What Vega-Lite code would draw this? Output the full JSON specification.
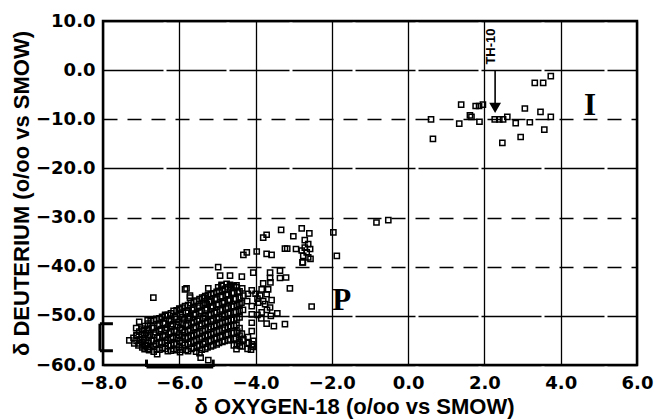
{
  "$schema": "https://vega.github.io/schema/vega-lite/v6.json",
  "autosize": {"type": "none"},
  "padding": {"left": 103, "top": 21, "right": 19, "bottom": 54},
  "width": 534,
  "height": 344,
  "background": "white",
  "config": {
    "view": {"stroke": "black", "strokeWidth": 2.5},
    "axis": {
      "labelFont": "DejaVu Sans", "labelFontWeight": "bold", "labelFontSize": 18, "labelColor": "black",
      "titleFont": "Liberation Sans", "titleFontWeight": "bold", "titleFontSize": 22, "titleColor": "black",
      "domain": false, "ticks": false, "tickSize": 0, "grid": true, "gridColor": "black", "gridOpacity": 1, "gridWidth": 1.3,
      "labelOverlap": false, "labelBound": false, "labelFlush": false
    }
  },
  "datasets": {
    "pts": [
      {"x":0.6,"y":-10},{"x":0.65,"y":-14},{"x":1.39,"y":-7.0},{"x":1.34,"y":-10.9},{"x":1.77,"y":-7.3},{"x":1.86,"y":-7.3},{"x":1.96,"y":-7.0},{"x":1.62,"y":-9.2},{"x":1.66,"y":-9.5},{"x":1.87,"y":-10.5},{"x":2.27,"y":-10.0},{"x":2.39,"y":-10.0},{"x":2.49,"y":-10.0},{"x":2.6,"y":-9.5},{"x":2.47,"y":-14.8},{"x":2.82,"y":-10.8},{"x":2.95,"y":-13.6},{"x":3.06,"y":-7.8},{"x":3.19,"y":-10.6},{"x":3.47,"y":-8.5},{"x":3.57,"y":-12.1},{"x":3.74,"y":-9.5},{"x":3.32,"y":-2.6},{"x":3.54,"y":-2.6},{"x":3.74,"y":-1.2},
      {"x":-0.83,"y":-31},{"x":-0.52,"y":-30.5},{"x":-1.96,"y":-33},{"x":-1.87,"y":-37.8},{"x":-2.53,"y":-48.1},{"x":-2.76,"y":-39.1},
      {"x":-2.71,"y":-34.6},{"x":-2.62,"y":-35.4},{"x":-2.71,"y":-36.1},{"x":-2.57,"y":-36.4},{"x":-2.79,"y":-36.7},{"x":-2.66,"y":-37.1},{"x":-2.75,"y":-37.8},{"x":-2.62,"y":-38.1},{"x":-2.77,"y":-39.1},{"x":-2.56,"y":-38.4},{"x":-2.94,"y":-36.4},{"x":-3.23,"y":-36.3},{"x":-3.17,"y":-36.3},
      {"x":-2.79,"y":-32.2},{"x":-2.59,"y":-33.2},{"x":-3.01,"y":-33.8},{"x":-3.33,"y":-32.5},{"x":-3.8,"y":-34.1},{"x":-3.71,"y":-33.5},
      {"x":-4.32,"y":-37.6},{"x":-4.23,"y":-37.1},{"x":-3.97,"y":-36.9},{"x":-3.71,"y":-37.4},{"x":-3.58,"y":-37.6},
      {"x":-4.98,"y":-40.1},{"x":-4.93,"y":-41.8},{"x":-4.67,"y":-41.8},{"x":-4.36,"y":-42.0},{"x":-4.06,"y":-41.2},{"x":-3.62,"y":-41.2},{"x":-3.36,"y":-40.8},{"x":-3.2,"y":-42.2},{"x":-3.36,"y":-42.3},{"x":-3.62,"y":-42.3},{"x":-3.1,"y":-44.4},{"x":-3.8,"y":-43.4},{"x":-3.61,"y":-43.2},{"x":-3.84,"y":-44.6},{"x":-3.67,"y":-44.6},{"x":-3.88,"y":-45.9},{"x":-3.71,"y":-45.6},{"x":-3.58,"y":-46.8},{"x":-3.93,"y":-47.3},{"x":-3.75,"y":-47.6},{"x":-3.62,"y":-48.3},{"x":-3.84,"y":-49.3},{"x":-3.43,"y":-49.5},{"x":-3.71,"y":-51.6},{"x":-3.52,"y":-52.1},{"x":-3.23,"y":-51.7},{"x":-4.1,"y":-48},{"x":-4.1,"y":-49.7},{"x":-4.1,"y":-51.4},{"x":-4.1,"y":-53.1},{"x":-4.32,"y":-54.8},{"x":-4.41,"y":-56.1},{"x":-4.5,"y":-56.8},{"x":-4.06,"y":-55.1},{"x":-4.06,"y":-56.3},
      {"x":-4.89,"y":-43.9},{"x":-4.67,"y":-43.7},{"x":-4.5,"y":-44.2},{"x":-4.1,"y":-44.8},{"x":-5.85,"y":-44.6},
      {"x":-3.95,"y":-46.5},{"x":-3.8,"y":-47},{"x":-3.7,"y":-48.8},{"x":-3.95,"y":-49.8},{"x":-3.85,"y":-50.5},{"x":-3.6,"y":-50},{"x":-4.0,"y":-45.5},
      {"x":-6.68,"y":-46.3},{"x":-7.05,"y":-51.2},{"x":-6.83,"y":-50.9},{"x":-7.13,"y":-52.5},{"x":-6.93,"y":-52.9},{"x":-7.31,"y":-55},{"x":-7.12,"y":-53.9},{"x":-7.05,"y":-55.6},{"x":-6.9,"y":-56.1},{"x":-6.79,"y":-57},{"x":-6.58,"y":-57.8},{"x":-5.44,"y":-58.5},{"x":-5.24,"y":-59},{"x":-5.72,"y":-46.3},{"x":-5.35,"y":-46.3},{"x":-5.28,"y":-47.6},{"x":-5.98,"y":-48.6},{"x":-6.37,"y":-49.8},{"x":-5.81,"y":-44.4},{"x":-5.72,"y":-45.9},{"x":-5.24,"y":-44.4},{"x":-4.98,"y":-44.2},{"x":-4.89,"y":-43.7},{"x":-4.76,"y":-43.5},
      {"x":-7.2,"y":-54.5},{"x":-7.18,"y":-55.6},
      {"x":-7.05,"y":-53.2},{"x":-7.02,"y":-54.8},{"x":-7.07,"y":-56.0},
      {"x":-6.9,"y":-52.1},{"x":-6.87,"y":-53.5},{"x":-6.92,"y":-54.6},{"x":-6.88,"y":-55.9},{"x":-6.91,"y":-56.8},
      {"x":-6.75,"y":-51.0},{"x":-6.72,"y":-52.4},{"x":-6.77,"y":-53.8},{"x":-6.73,"y":-55.1},{"x":-6.76,"y":-56.3},
      {"x":-6.6,"y":-50.6},{"x":-6.57,"y":-52.0},{"x":-6.62,"y":-53.3},{"x":-6.58,"y":-54.5},{"x":-6.61,"y":-55.7},{"x":-6.59,"y":-56.9},
      {"x":-6.45,"y":-50.2},{"x":-6.42,"y":-51.5},{"x":-6.47,"y":-52.7},{"x":-6.43,"y":-54.0},{"x":-6.46,"y":-55.3},{"x":-6.44,"y":-56.5},
      {"x":-6.3,"y":-49.8},{"x":-6.27,"y":-51.1},{"x":-6.32,"y":-52.4},{"x":-6.28,"y":-53.6},{"x":-6.31,"y":-54.9},{"x":-6.29,"y":-56.1},{"x":-6.3,"y":-57.2},
      {"x":-6.15,"y":-49.0},{"x":-6.12,"y":-50.3},{"x":-6.17,"y":-51.7},{"x":-6.13,"y":-53.0},{"x":-6.16,"y":-54.3},{"x":-6.14,"y":-55.6},{"x":-6.15,"y":-56.8},
      {"x":-6.0,"y":-48.5},{"x":-5.97,"y":-49.9},{"x":-6.02,"y":-51.2},{"x":-5.98,"y":-52.5},{"x":-6.01,"y":-53.8},{"x":-5.99,"y":-55.1},{"x":-6.0,"y":-56.4},{"x":-5.98,"y":-57.4},
      {"x":-5.85,"y":-48.0},{"x":-5.82,"y":-49.4},{"x":-5.87,"y":-50.7},{"x":-5.83,"y":-52.0},{"x":-5.86,"y":-53.3},{"x":-5.84,"y":-54.6},{"x":-5.85,"y":-55.9},{"x":-5.83,"y":-57.0},
      {"x":-5.7,"y":-47.4},{"x":-5.67,"y":-48.8},{"x":-5.72,"y":-50.1},{"x":-5.68,"y":-51.5},{"x":-5.71,"y":-52.8},{"x":-5.69,"y":-54.1},{"x":-5.7,"y":-55.4},{"x":-5.68,"y":-56.7},
      {"x":-5.55,"y":-46.9},{"x":-5.52,"y":-48.3},{"x":-5.57,"y":-49.6},{"x":-5.53,"y":-51.0},{"x":-5.56,"y":-52.3},{"x":-5.54,"y":-53.6},{"x":-5.55,"y":-54.9},{"x":-5.53,"y":-56.2},{"x":-5.56,"y":-57.3},
      {"x":-5.4,"y":-46.3},{"x":-5.37,"y":-47.7},{"x":-5.42,"y":-49.0},{"x":-5.38,"y":-50.4},{"x":-5.41,"y":-51.7},{"x":-5.39,"y":-53.1},{"x":-5.4,"y":-54.4},{"x":-5.38,"y":-55.7},{"x":-5.41,"y":-56.9},
      {"x":-5.25,"y":-45.8},{"x":-5.22,"y":-47.2},{"x":-5.27,"y":-48.5},{"x":-5.23,"y":-49.9},{"x":-5.26,"y":-51.2},{"x":-5.24,"y":-52.6},{"x":-5.25,"y":-53.9},{"x":-5.23,"y":-55.2},{"x":-5.26,"y":-56.4},
      {"x":-5.1,"y":-45.4},{"x":-5.07,"y":-46.7},{"x":-5.12,"y":-48.0},{"x":-5.08,"y":-49.4},{"x":-5.11,"y":-50.7},{"x":-5.09,"y":-52.1},{"x":-5.1,"y":-53.4},{"x":-5.08,"y":-54.7},{"x":-5.11,"y":-56.0},
      {"x":-4.95,"y":-44.9},{"x":-4.92,"y":-46.2},{"x":-4.97,"y":-47.6},{"x":-4.93,"y":-48.9},{"x":-4.96,"y":-50.3},{"x":-4.94,"y":-51.6},{"x":-4.95,"y":-53.0},{"x":-4.93,"y":-54.3},{"x":-4.96,"y":-55.5},
      {"x":-4.8,"y":-44.5},{"x":-4.77,"y":-45.8},{"x":-4.82,"y":-47.1},{"x":-4.78,"y":-48.5},{"x":-4.81,"y":-49.8},{"x":-4.79,"y":-51.2},{"x":-4.8,"y":-52.5},{"x":-4.78,"y":-53.8},{"x":-4.81,"y":-55.1},
      {"x":-4.65,"y":-44.0},{"x":-4.62,"y":-45.4},{"x":-4.67,"y":-46.7},{"x":-4.63,"y":-48.1},{"x":-4.66,"y":-49.4},{"x":-4.64,"y":-50.8},{"x":-4.65,"y":-52.1},{"x":-4.63,"y":-53.5},{"x":-4.66,"y":-54.8},
      {"x":-4.5,"y":-43.8},{"x":-4.47,"y":-45.1},{"x":-4.52,"y":-46.5},{"x":-4.48,"y":-47.8},{"x":-4.51,"y":-49.2},{"x":-4.49,"y":-50.5},{"x":-4.5,"y":-51.9},{"x":-4.48,"y":-53.2},{"x":-4.51,"y":-54.6},{"x":-4.49,"y":-55.8},
      {"x":-4.35,"y":-44.4},{"x":-4.32,"y":-45.9},{"x":-4.37,"y":-47.3},{"x":-4.33,"y":-48.8},{"x":-4.36,"y":-53.6},{"x":-4.34,"y":-55.0},{"x":-4.35,"y":-56.2},
      {"x":-4.2,"y":-45.5},{"x":-4.22,"y":-47.0},{"x":-4.2,"y":-54.3},{"x":-4.18,"y":-55.5},{"x":-4.21,"y":-56.7},
      {"x":-4.1,"y":-55.8},{"x":-4.12,"y":-56.9},{"x":-4.08,"y":-56.2},
      {"x":-7.12,"y":-54.0},{"x":-7.12,"y":-55.1},
      {"x":-6.97,"y":-52.6},{"x":-6.97,"y":-53.9},{"x":-6.97,"y":-55.3},{"x":-6.97,"y":-56.4},
      {"x":-6.82,"y":-51.6},{"x":-6.82,"y":-52.9},{"x":-6.82,"y":-54.2},{"x":-6.82,"y":-55.5},{"x":-6.82,"y":-56.7},
      {"x":-6.67,"y":-50.9},{"x":-6.67,"y":-52.5},{"x":-6.67,"y":-53.8},{"x":-6.67,"y":-55.0},{"x":-6.67,"y":-56.2},{"x":-6.67,"y":-57.3},
      {"x":-6.52,"y":-50.5},{"x":-6.52,"y":-51.8},{"x":-6.52,"y":-53.0},{"x":-6.52,"y":-54.3},{"x":-6.52,"y":-55.6},{"x":-6.52,"y":-56.9},
      {"x":-6.37,"y":-50.0},{"x":-6.37,"y":-51.6},{"x":-6.37,"y":-52.9},{"x":-6.37,"y":-54.2},{"x":-6.37,"y":-55.5},{"x":-6.37,"y":-56.7},
      {"x":-6.22,"y":-49.5},{"x":-6.22,"y":-50.8},{"x":-6.22,"y":-52.1},{"x":-6.22,"y":-53.3},{"x":-6.22,"y":-54.6},{"x":-6.22,"y":-55.9},{"x":-6.22,"y":-57.1},
      {"x":-6.07,"y":-48.9},{"x":-6.07,"y":-50.6},{"x":-6.07,"y":-51.9},{"x":-6.07,"y":-53.2},{"x":-6.07,"y":-54.5},{"x":-6.07,"y":-55.8},{"x":-6.07,"y":-57.0},
      {"x":-5.92,"y":-48.3},{"x":-5.92,"y":-50.3},{"x":-5.92,"y":-51.6},{"x":-5.92,"y":-52.9},{"x":-5.92,"y":-54.2},{"x":-5.92,"y":-55.5},{"x":-5.92,"y":-56.9},
      {"x":-5.77,"y":-47.8},{"x":-5.77,"y":-49.1},{"x":-5.77,"y":-50.4},{"x":-5.77,"y":-51.8},{"x":-5.77,"y":-53.1},{"x":-5.77,"y":-54.4},{"x":-5.77,"y":-55.7},{"x":-5.77,"y":-57.2},
      {"x":-5.62,"y":-47.1},{"x":-5.62,"y":-48.5},{"x":-5.62,"y":-49.8},{"x":-5.62,"y":-51.2},{"x":-5.62,"y":-52.5},{"x":-5.62,"y":-53.9},{"x":-5.62,"y":-55.2},{"x":-5.62,"y":-56.5},
      {"x":-5.47,"y":-46.6},{"x":-5.47,"y":-48.0},{"x":-5.47,"y":-49.3},{"x":-5.47,"y":-50.7},{"x":-5.47,"y":-52.0},{"x":-5.47,"y":-53.4},{"x":-5.47,"y":-54.7},{"x":-5.47,"y":-56.0},{"x":-5.47,"y":-57.6},
      {"x":-5.32,"y":-46.0},{"x":-5.32,"y":-47.4},{"x":-5.32,"y":-48.8},{"x":-5.32,"y":-50.1},{"x":-5.32,"y":-51.5},{"x":-5.32,"y":-52.8},{"x":-5.32,"y":-54.1},{"x":-5.32,"y":-55.4},{"x":-5.32,"y":-56.7},
      {"x":-5.17,"y":-45.6},{"x":-5.17,"y":-47.0},{"x":-5.17,"y":-48.3},{"x":-5.17,"y":-49.7},{"x":-5.17,"y":-51.0},{"x":-5.17,"y":-52.3},{"x":-5.17,"y":-53.7},{"x":-5.17,"y":-55.0},{"x":-5.17,"y":-56.2},
      {"x":-5.02,"y":-45.1},{"x":-5.02,"y":-46.5},{"x":-5.02,"y":-47.8},{"x":-5.02,"y":-49.2},{"x":-5.02,"y":-50.5},{"x":-5.02,"y":-51.9},{"x":-5.02,"y":-53.2},{"x":-5.02,"y":-54.5},{"x":-5.02,"y":-55.8},
      {"x":-4.87,"y":-44.7},{"x":-4.87,"y":-46.0},{"x":-4.87,"y":-47.4},{"x":-4.87,"y":-48.7},{"x":-4.87,"y":-50.1},{"x":-4.87,"y":-51.4},{"x":-4.87,"y":-52.8},{"x":-4.87,"y":-54.1},{"x":-4.87,"y":-55.3},
      {"x":-4.72,"y":-44.2},{"x":-4.72,"y":-45.6},{"x":-4.72,"y":-46.9},{"x":-4.72,"y":-48.3},{"x":-4.72,"y":-49.6},{"x":-4.72,"y":-51.0},{"x":-4.72,"y":-52.3},{"x":-4.72,"y":-53.7},{"x":-4.72,"y":-55.0},
      {"x":-4.57,"y":-44.0},{"x":-4.57,"y":-45.3},{"x":-4.57,"y":-46.6},{"x":-4.57,"y":-48.0},{"x":-4.57,"y":-49.3},{"x":-4.57,"y":-50.7},{"x":-4.57,"y":-52.0},{"x":-4.57,"y":-53.4},{"x":-4.57,"y":-54.7},{"x":-4.57,"y":-56.0},
      {"x":-4.42,"y":-45.0},{"x":-4.42,"y":-46.3},{"x":-4.42,"y":-47.6},{"x":-4.42,"y":-49.0},{"x":-4.42,"y":-50.3},{"x":-4.42,"y":-52.5},{"x":-4.42,"y":-54.0},{"x":-4.42,"y":-55.4}
    ],
    "brk": [
      {"x":-8.08,"y":-51.6,"x2":-8.08,"y2":-57.1},
      {"x":-8.08,"y":-51.6,"x2":-7.74,"y2":-51.6},
      {"x":-8.08,"y":-57.1,"x2":-7.74,"y2":-57.1},
      {"x":-6.86,"y":-60.4,"x2":-5.11,"y2":-60.4},
      {"x":-6.86,"y":-60.4,"x2":-6.86,"y2":-58.9},
      {"x":-5.11,"y":-60.4,"x2":-5.11,"y2":-58.9}
    ],
    "arrow": [{"x":2.28,"y":0,"x2":2.28,"y2":-6.8}],
    "head": [{"x":2.28,"y":-7.6}],
    "big": [{"x":4.77,"y":-7.3,"label":"I"},{"x":-1.74,"y":-46.9,"label":"P"}],
    "th": [{"x":2.16,"y":4.8,"label":"TH-10"}]
  },
  "layer": [
    {
      "data": {"name": "pts"},
      "mark": {"type": "point", "shape": "square", "filled": false, "stroke": "black", "strokeWidth": 1.5, "size": 27, "opacity": 1},
      "encoding": {
        "x": {"field": "x", "type": "quantitative", "scale": {"domain": [-8, 6], "nice": false, "zero": false},
          "axis": {"values": [-8,-6,-4,-2,0,2,4,6], "format": ".1f", "labelPadding": 9, "title": "δ OXYGEN-18 (o/oo vs SMOW)", "titleX": 251, "titleY": 31, "titleBaseline": "top"}},
        "y": {"field": "y", "type": "quantitative", "scale": {"domain": [-60, 10], "nice": false, "zero": false},
          "axis": {"values": [-60,-50,-40,-30,-20,-10,0,10], "format": ".1f", "labelPadding": 8, "title": "δ DEUTERIUM (o/oo vs SMOW)", "titleX": -82, "titleBaseline": "middle",
            "gridDash": {"condition": {"test": "datum.value == -10 || datum.value == -30 || datum.value == -40", "value": [14, 10]}, "value": [60, 3]}}}
      }
    },
    {
      "data": {"name": "brk"},
      "mark": {"type": "rule", "stroke": "black", "strokeWidth": 3, "clip": false},
      "encoding": {
        "x": {"field": "x", "type": "quantitative", "scale": {"domain": [-8, 6], "nice": false, "zero": false}},
        "y": {"field": "y", "type": "quantitative", "scale": {"domain": [-60, 10], "nice": false, "zero": false}},
        "x2": {"field": "x2"},
        "y2": {"field": "y2"}
      }
    },
    {
      "data": {"name": "arrow"},
      "mark": {"type": "rule", "stroke": "black", "strokeWidth": 1.6},
      "encoding": {
        "x": {"field": "x", "type": "quantitative", "scale": {"domain": [-8, 6], "nice": false, "zero": false}},
        "y": {"field": "y", "type": "quantitative", "scale": {"domain": [-60, 10], "nice": false, "zero": false}},
        "x2": {"field": "x2"},
        "y2": {"field": "y2"}
      }
    },
    {
      "data": {"name": "head"},
      "mark": {"type": "point", "shape": "triangle-down", "filled": true, "fill": "black", "stroke": "black", "size": 70, "opacity": 1},
      "encoding": {
        "x": {"field": "x", "type": "quantitative", "scale": {"domain": [-8, 6], "nice": false, "zero": false}},
        "y": {"field": "y", "type": "quantitative", "scale": {"domain": [-60, 10], "nice": false, "zero": false}}
      }
    },
    {
      "data": {"name": "big"},
      "mark": {"type": "text", "font": "Liberation Serif", "fontWeight": "bold", "fontSize": 31, "color": "black", "align": "center", "baseline": "middle"},
      "encoding": {
        "x": {"field": "x", "type": "quantitative", "scale": {"domain": [-8, 6], "nice": false, "zero": false}},
        "y": {"field": "y", "type": "quantitative", "scale": {"domain": [-60, 10], "nice": false, "zero": false}},
        "text": {"field": "label"}
      }
    },
    {
      "data": {"name": "th"},
      "mark": {"type": "text", "font": "Liberation Sans", "fontWeight": "bold", "fontSize": 13, "color": "black", "align": "center", "baseline": "middle", "angle": 270},
      "encoding": {
        "x": {"field": "x", "type": "quantitative", "scale": {"domain": [-8, 6], "nice": false, "zero": false}},
        "y": {"field": "y", "type": "quantitative", "scale": {"domain": [-60, 10], "nice": false, "zero": false}},
        "text": {"field": "label"}
      }
    }
  ]
}
